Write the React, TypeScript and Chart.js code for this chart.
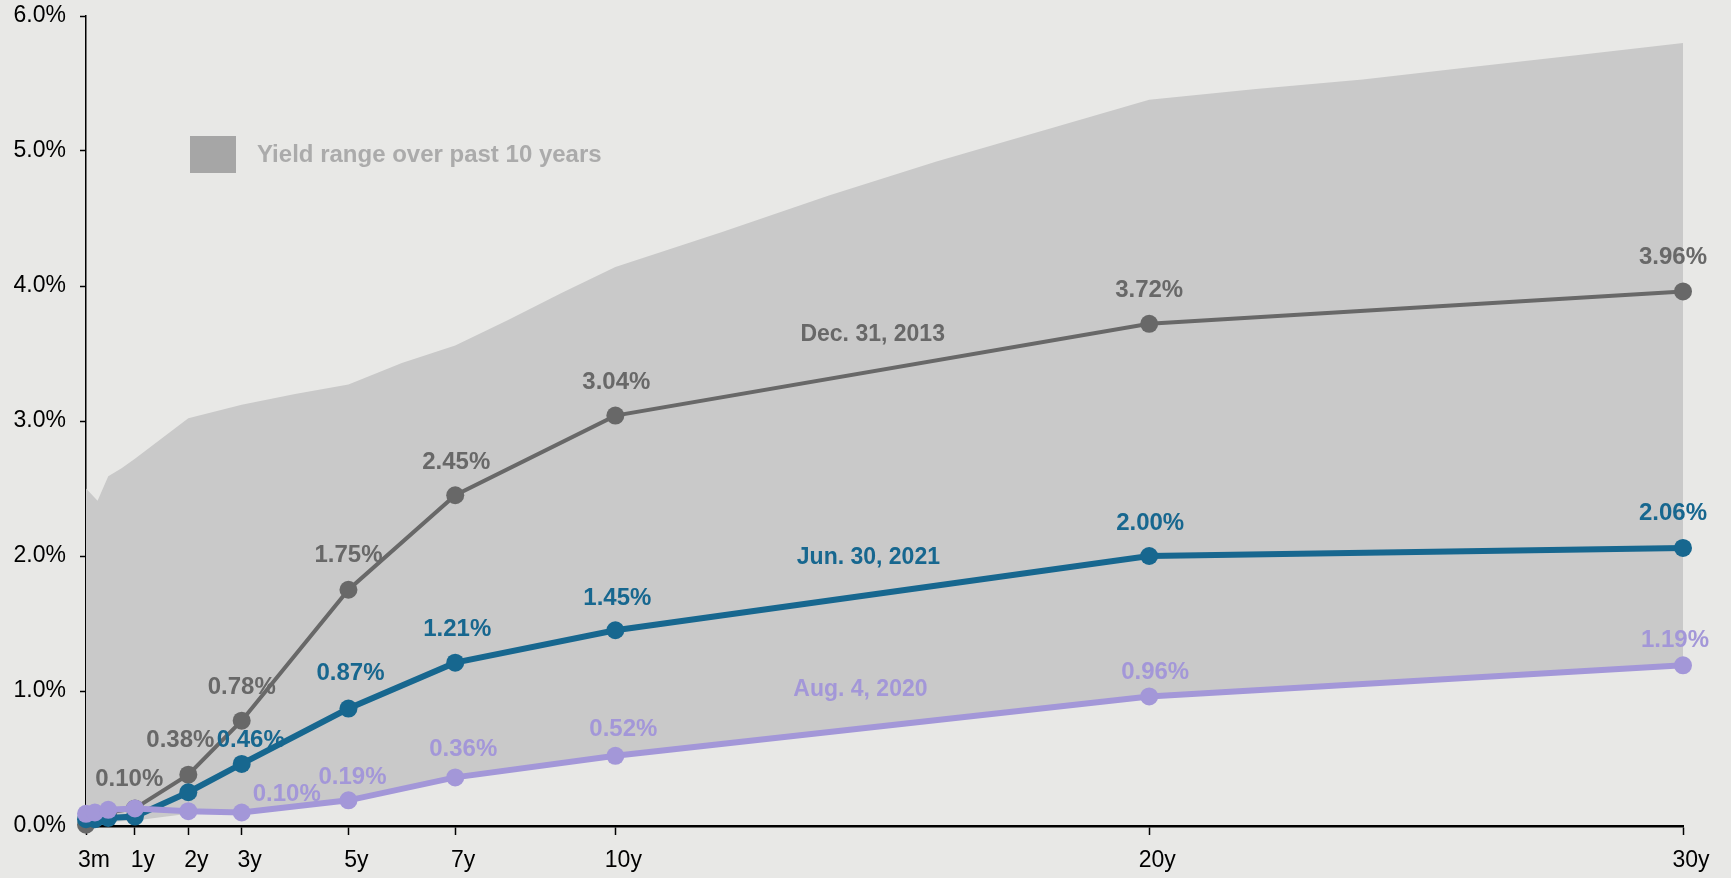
import React, { useEffect, useRef } from 'react';
import { Chart, registerables } from 'chart.js';

Chart.register(...registerables);

// ---------- DATA ----------
const maturities = [1 / 12, 0.25, 0.5, 1, 2, 3, 5, 7, 10, 20, 30];
const dec2013 = [0.01, 0.07, 0.10, 0.13, 0.38, 0.78, 1.75, 2.45, 3.04, 3.72, 3.96];
const jun2021 = [0.05, 0.05, 0.06, 0.07, 0.25, 0.46, 0.87, 1.21, 1.45, 2.00, 2.06];
const aug2020 = [0.09, 0.10, 0.12, 0.13, 0.11, 0.10, 0.19, 0.36, 0.52, 0.96, 1.19];

const rangeHighMaturities = [1 / 12, 0.3, 0.5, 0.75, 1, 1.5, 2, 3, 4, 5, 6, 7, 8, 9, 10, 12, 14, 16, 18, 20, 22, 24, 26, 28, 30];
const rangeHigh = [2.50, 2.41, 2.59, 2.65, 2.72, 2.87, 3.02, 3.12, 3.20, 3.27, 3.43, 3.56, 3.75, 3.95, 4.14, 4.40, 4.67, 4.92, 5.15, 5.38, 5.46, 5.53, 5.62, 5.71, 5.80];
const rangeLowMaturities = [1 / 12, 0.25, 0.5, 1, 2, 3, 5, 7, 10, 20, 30];
const rangeLow = [0.00, 0.01, 0.03, 0.04, 0.09, 0.10, 0.19, 0.36, 0.52, 0.96, 1.19];

const xTickValues = [1 / 12, 1, 2, 3, 5, 7, 10, 20, 30];
const xTickLabels = ['3m', '1y', '2y', '3y', '5y', '7y', '10y', '20y', '30y'];
const yTickValues = [0, 1, 2, 3, 4, 5, 6];

const seriesNames = ['Dec. 31, 2013', 'Jun. 30, 2021', 'Aug. 4, 2020'];
const legendText = 'Yield range over past 10 years';

// ---------- STYLE ----------
const BG = '#e8e8e6';
const AREA = '#c9c9c9';
const GRAY = '#686868';
const BLUE = '#17678f';
const PURPLE = '#a397d8';
const FONT = '"Liberation Sans", Arial, sans-serif';

// which points get value labels and pixel offsets for them (dx, dy)
const labelSpecs = [
  { data: dec2013, color: GRAY, items: [[2, 21, -33], [4, -8, -34], [5, 0, -33], [6, 0, -34], [7, 1, -33], [8, 1, -33], [9, 0, -33], [10, -10, -34]] },
  { data: jun2021, color: BLUE, items: [[5, 9, -24], [6, 2, -35], [7, 2, -33], [8, 2, -32], [9, 1, -33], [10, -10, -35]] },
  { data: aug2020, color: PURPLE, items: [[5, 45, -18], [6, 4, -23], [7, 8, -28], [8, 8, -26], [9, 6, -24], [10, -8, -25]] },
];
const nameSpecs = [
  { text: seriesNames[0], color: GRAY, x: 14.82, y: 3.64 },
  { text: seriesNames[1], color: BLUE, x: 14.74, y: 1.99 },
  { text: seriesNames[2], color: PURPLE, x: 14.59, y: 1.01 },
];

const toPts = (xs: number[], ys: number[]) => xs.map((x, i) => ({ x, y: ys[i] }));

const bgPlugin = {
  id: 'bg',
  beforeDraw(chart: any) {
    const { ctx, width, height } = chart;
    ctx.save();
    ctx.fillStyle = BG;
    ctx.fillRect(0, 0, width, height);
    ctx.restore();
  },
};

const annoPlugin = {
  id: 'anno',
  afterDatasetsDraw(chart: any) {
    const { ctx, scales } = chart;
    const xs = scales.x;
    const ys = scales.y;
    ctx.save();
    // legend
    ctx.fillStyle = '#a6a6a6';
    ctx.fillRect(190, 136, 46, 37);
    ctx.font = `bold 24px ${FONT}`;
    ctx.fillStyle = '#ababab';
    ctx.textAlign = 'left';
    ctx.textBaseline = 'middle';
    ctx.fillText(legendText, 257, 155);
    // value labels
    ctx.textAlign = 'center';
    ctx.font = `bold 24px ${FONT}`;
    for (const spec of labelSpecs) {
      ctx.fillStyle = spec.color;
      for (const [i, dx, dy] of spec.items) {
        const v = spec.data[i];
        const px = xs.getPixelForValue(maturities[i]);
        const py = ys.getPixelForValue(v);
        ctx.fillText(v.toFixed(2) + '%', px + dx, py + dy);
      }
    }
    // series names
    ctx.font = `bold 23px ${FONT}`;
    for (const n of nameSpecs) {
      ctx.fillStyle = n.color;
      ctx.fillText(n.text, xs.getPixelForValue(n.x), ys.getPixelForValue(n.y));
    }
    ctx.restore();
  },
};

export default function App() {
  const ref = useRef<HTMLCanvasElement | null>(null);

  useEffect(() => {
    document.body.style.margin = '0';
    document.body.style.background = BG;
    const canvas = ref.current;
    if (!canvas) return;
    const lineDs = (label: string, data: number[], color: string, width: number, order: number) => ({
      label,
      data: toPts(maturities, data),
      borderColor: color,
      backgroundColor: color,
      borderWidth: width,
      pointRadius: 9,
      pointBorderWidth: 0,
      pointBackgroundColor: color,
      fill: false,
      tension: 0,
      clip: false as any,
      order,
    });
    const chart = new Chart(canvas, {
      type: 'line',
      data: {
        datasets: [
          {
            label: 'high',
            data: toPts(rangeHighMaturities, rangeHigh),
            borderWidth: 0,
            borderColor: 'rgba(0,0,0,0)',
            backgroundColor: AREA,
            pointRadius: 0,
            fill: 1,
            tension: 0,
            order: 10,
          } as any,
          {
            label: 'low',
            data: toPts(rangeLowMaturities, rangeLow),
            borderWidth: 0,
            borderColor: 'rgba(0,0,0,0)',
            backgroundColor: AREA,
            pointRadius: 0,
            fill: false,
            tension: 0,
            order: 11,
          } as any,
          lineDs(seriesNames[0], dec2013, GRAY, 4, 3),
          lineDs(seriesNames[1], jun2021, BLUE, 6, 2),
          lineDs(seriesNames[2], aug2020, PURPLE, 6, 1),
        ],
      },
      options: {
        responsive: false,
        animation: false,
        devicePixelRatio: 1,
        layout: { padding: { top: 16, right: 48, left: 0, bottom: 0 } },
        plugins: {
          legend: { display: false },
          tooltip: { enabled: false },
          filler: { drawTime: 'beforeDatasetsDraw' } as any,
        },
        scales: {
          x: {
            type: 'linear',
            min: 1 / 12,
            max: 30,
            afterFit: (s: any) => { s.height = 52; s.paddingLeft = 0; s.paddingRight = 0; },
            afterBuildTicks: (s: any) => { s.ticks = xTickValues.map((v) => ({ value: v })); },
            ticks: {
              autoSkip: false,
              maxRotation: 0,
              minRotation: 0,
              padding: 12,
              labelOffset: 8,
              color: '#000',
              font: { family: FONT, size: 23 },
              callback: (_v: any, i: number) => xTickLabels[i],
            },
            grid: { display: true, drawOnChartArea: false, drawTicks: true, tickLength: 9, tickColor: '#000', tickWidth: 1.5 },
            border: { display: true, color: '#000', width: 2.5 },
          },
          y: {
            type: 'linear',
            min: 0,
            max: 6,
            afterFit: (s: any) => { s.width = 86; s.paddingTop = 0; s.paddingBottom = 0; },
            afterBuildTicks: (s: any) => { s.ticks = yTickValues.map((v) => ({ value: v })); },
            ticks: {
              padding: 14,
              color: '#000',
              font: { family: FONT, size: 23 },
              callback: (v: any) => Number(v).toFixed(1) + '%',
            },
            grid: { display: true, drawOnChartArea: false, drawTicks: true, tickLength: 6, tickColor: '#000', tickWidth: 1.5 },
            border: { display: true, color: '#000', width: 1.5 },
          },
        },
      },
      plugins: [bgPlugin, annoPlugin],
    });
    return () => chart.destroy();
  }, []);

  return (
    <div style={{ width: 1731, height: 878 }}>
      <canvas ref={ref} width={1731} height={878} style={{ display: 'block' }} />
    </div>
  );
}
